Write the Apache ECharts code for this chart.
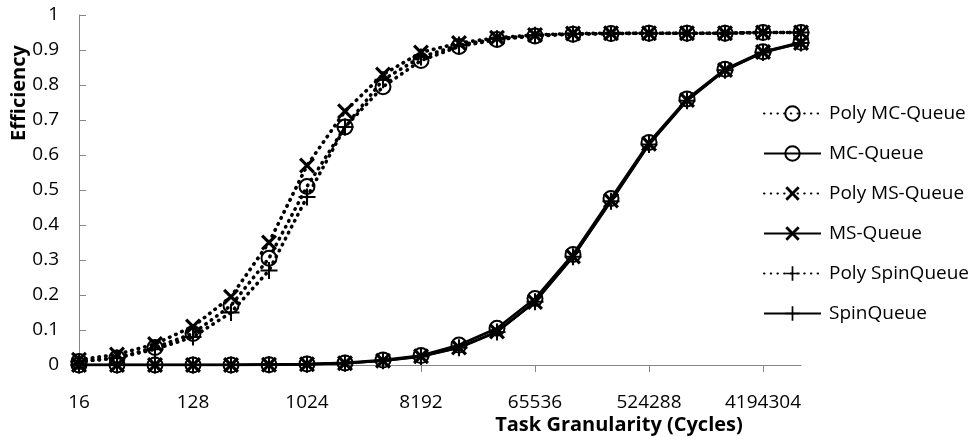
<!DOCTYPE html>
<html>
<head>
<meta charset="utf-8">
<script src="https://cdn.jsdelivr.net/npm/echarts@6/dist/echarts.min.js"></script>
<style>
html,body{margin:0;padding:0;background:#fff;}
#chart{width:970px;height:437px;}
</style>
</head>
<body>
<div id="chart"></div>
<script>
var categories = ['16','32','64','128','256','512','1024','2048','4096','8192','16384','32768','65536','131072','262144','524288','1048576','2097152','4194304','8388608'];
var polyMC   = [0.01,0.02,0.05,0.09,0.17,0.305,0.51,0.68,0.795,0.87,0.91,0.93,0.94,0.945,0.947,0.948,0.948,0.948,0.95,0.95];
var mc       = [0,0,0,0,0,0.001,0.003,0.006,0.014,0.027,0.057,0.105,0.19,0.316,0.476,0.636,0.76,0.845,0.895,0.922];
var polyMS   = [0.015,0.03,0.06,0.11,0.195,0.35,0.57,0.725,0.83,0.893,0.92,0.935,0.943,0.947,0.948,0.948,0.948,0.948,0.95,0.95];
var ms       = [0,0,0,0,0,0.001,0.002,0.005,0.012,0.025,0.05,0.096,0.18,0.31,0.47,0.632,0.757,0.843,0.894,0.92];
var polySpin = [0.01,0.02,0.045,0.08,0.15,0.27,0.48,0.68,0.815,0.88,0.914,0.932,0.942,0.946,0.947,0.948,0.948,0.948,0.95,0.95];
var spin     = [0,0,0,0,0,0.001,0.002,0.005,0.012,0.024,0.049,0.094,0.181,0.309,0.468,0.63,0.755,0.842,0.893,0.92];
var seriesNames = ['Poly MC-Queue','MC-Queue','Poly MS-Queue','MS-Queue','Poly SpinQueue','SpinQueue'];

var FONT = '"Open Sans", sans-serif';
var X_PATH = 'path://M1.4,0 L5,3.6 L8.6,0 L10,1.4 L6.4,5 L10,8.6 L8.6,10 L5,6.4 L1.4,10 L0,8.6 L3.6,5 L0,1.4 Z';
var PLUS_PATH = 'path://M4.4,0 L5.6,0 L5.6,4.4 L10,4.4 L10,5.6 L5.6,5.6 L5.6,10 L4.4,10 L4.4,5.6 L0,5.6 L0,4.4 L4.4,4.4 Z';
var DOT = [0.5, 6.2];

function mk(name, data, kind, dotted) {
  var s = {
    name: name,
    type: 'line',
    data: data,
    animation: false,
    lineStyle: dotted ? {color:'#000', width:3.6, type: DOT, cap:'round'} : {color:'#000', width:2.6},
    emphasis: {disabled: true}
  };
  if (kind === 'circle') {
    s.symbol = 'circle';
    s.symbolSize = 15;
    s.itemStyle = {color:'rgba(0,0,0,0)', borderColor:'#000', borderWidth:2};
  } else if (kind === 'x') {
    s.symbol = X_PATH;
    s.symbolSize = 16;
    s.itemStyle = {color:'#000', borderWidth:0};
  } else {
    s.symbol = PLUS_PATH;
    s.symbolSize = 17;
    s.itemStyle = {color:'#000', borderWidth:0};
  }
  return s;
}

var chart = echarts.init(document.getElementById('chart'), null, {renderer:'canvas'});
chart.setOption({
  backgroundColor: '#fff',
  color: ['#000'],
  textStyle: {fontFamily: FONT},
  grid: {left: 79, right: 169, top: 15, bottom: 72, containLabel: false, outerBoundsMode: 'none'},
  legend: {
    orient: 'vertical',
    left: 763,
    top: 104,
    padding: 0,
    itemWidth: 57,
    itemHeight: 18,
    itemGap: 21,
    textStyle: {fontFamily: FONT, fontSize: 19, color: '#000', padding:[0,0,0,3]},
    data: seriesNames
  },
  xAxis: {
    type: 'category',
    data: categories,
    boundaryGap: false,
    axisLine: {lineStyle: {color: '#868686', width: 1}},
    axisTick: {show: true, interval: 2, length: 7, lineStyle: {color: '#868686'}},
    axisLabel: {interval: 2, fontFamily: FONT, fontSize: 19, color: '#000', margin: 28},
    name: 'Task Granularity (Cycles)',
    nameLocation: 'middle',
    nameGap: 50,
    nameMoveOverlap: false,
    nameTextStyle: {fontFamily: FONT, fontSize: 20, fontWeight: 'bold', color: '#000', padding: [0,0,0,358]},
    splitLine: {show: false}
  },
  yAxis: {
    type: 'value',
    min: 0, max: 1, interval: 0.1,
    axisLine: {show: true, lineStyle: {color: '#868686', width: 1}},
    axisTick: {show: true, inside: true, length: 7, lineStyle: {color: '#868686'}},
    axisLabel: {fontFamily: FONT, fontSize: 19, color: '#000', margin: 20},
    splitLine: {show: false},
    name: 'Efficiency',
    nameLocation: 'middle',
    nameRotate: 90,
    nameGap: 50,
    nameMoveOverlap: false,
    nameTextStyle: {fontFamily: FONT, fontSize: 20, fontWeight: 'bold', color: '#000', padding: [0,0,0,194]}
  },
  series: [
    mk(seriesNames[0], polyMC, 'circle', true),
    mk(seriesNames[1], mc, 'circle', false),
    mk(seriesNames[2], polyMS, 'x', true),
    mk(seriesNames[3], ms, 'x', false),
    mk(seriesNames[4], polySpin, 'plus', true),
    mk(seriesNames[5], spin, 'plus', false)
  ]
});
</script>
</body>
</html>
